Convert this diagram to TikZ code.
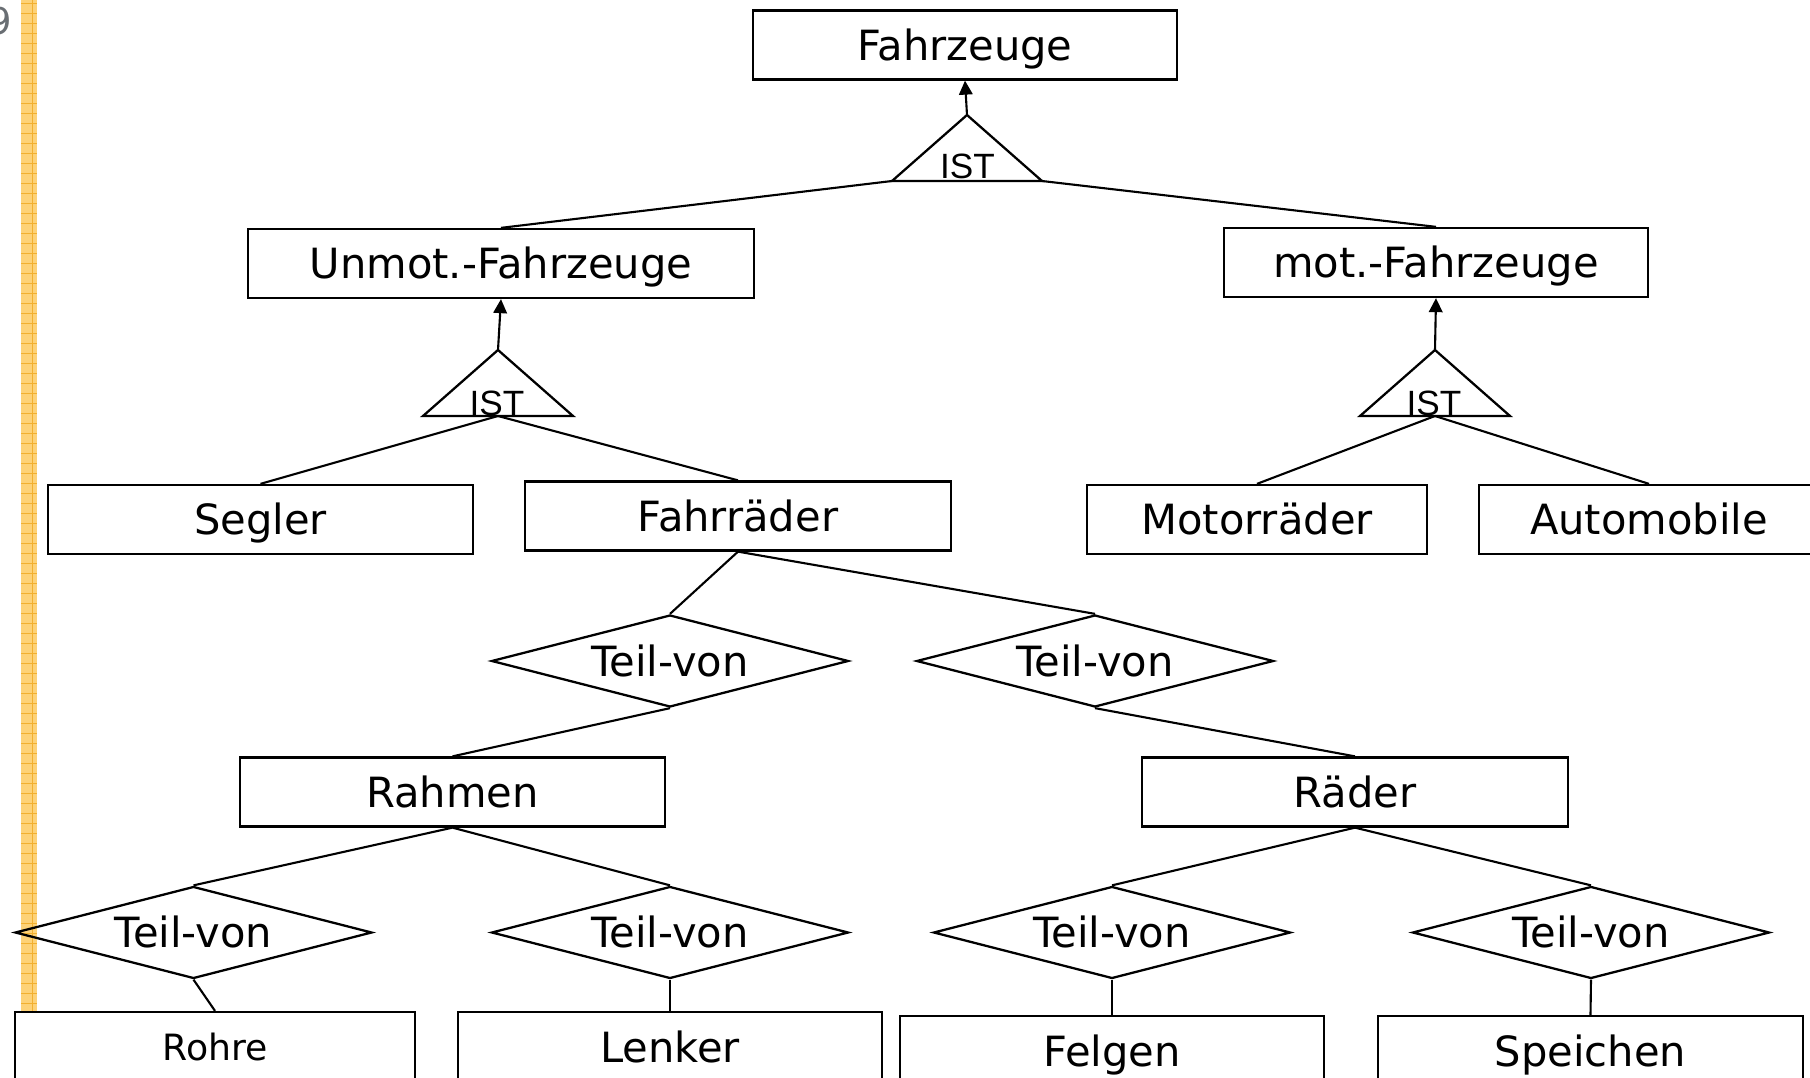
\documentclass[tikz,border=0pt]{standalone}
\usepackage{fontspec}
\setmainfont{DejaVu Sans}
\newfontfamily\istfont{Liberation Sans}
\usetikzlibrary{
  arrows.meta,
  shapes.geometric,
  calc,
}
\definecolor{barfill}{RGB}{253,210,120}
\definecolor{barline}{RGB}{242,176,48}
\definecolor{pagenum}{RGB}{105,110,115}
\def\pxu{0.02cm}
\tikzset{
  entbox/.style={
    rectangle, draw, line width=1.3pt, fill=white,
    minimum width=#1*\pxu, minimum height=69*\pxu, inner sep=0pt,
    font=\fontsize{23.7}{28}\selectfont, text height=17.3pt, text depth=0pt
  },
  entbox/.default=425,
  relnode/.style={
    diamond, draw, line width=1.3pt, aspect=3.9,
    minimum width=357*\pxu, minimum height=92*\pxu, inner sep=0pt,
    font=\fontsize{23.7}{28}\selectfont, text height=17.3pt, text depth=0pt
  },
  isttri/.style={
    isosceles triangle, shape border rotate=90, isosceles triangle stretches,
    draw, line width=1.3pt, minimum width=150*\pxu, minimum height=66*\pxu,
    inner sep=0pt, outer sep=0pt, anchor=apex
  },
  istlabel/.style={font=\istfont\fontsize{20}{24}\selectfont, inner sep=0pt, anchor=base},
  link/.style={line width=1.2pt},
  istarrow/.style={line width=1.2pt, -{Triangle[length=0.28cm, width=0.27cm]}},
}

\begin{document}
\begin{tikzpicture}[x=\pxu, y=-\pxu]
  \clip (0,0) rectangle (1810,1078);
  \useasboundingbox (0,0) rectangle (1810,1078);

  % ── Page margin bar ──
  \fill[barfill] (21,0) rectangle (37,1078);
  \foreach \yy in {3,13,...,1073}
    \draw[barline, line width=0.4pt] (21,\yy) -- (37,\yy);
  \draw[barline, line width=0.4pt] (32,0) -- (32,1078);
  \node[font=\fontsize{21}{24}\selectfont, text=pagenum, anchor=base east, inner sep=0pt]
    (pagenr) at (12,35) {9};

  % ── Generalisation: top level ──
  \node[entbox=424] (Fzg) at (965,45) {Fahrzeuge};
  \node[isttri] (IST0) at (967,115) {};
  \node[istlabel] (IST0lbl) at (967.5,178) {IST};
  \node[entbox=506] (Unmot) at (501,263.5) {Unmot.-Fahrzeuge};
  \node[entbox=424] (Mot) at (1436,262.5) {mot.-Fahrzeuge};

  % ── Generalisation: second level ──
  \node[isttri] (IST1) at (498,350) {};
  \node[istlabel] (IST1lbl) at (497,415) {IST};
  \node[isttri] (IST2) at (1435,350) {};
  \node[istlabel] (IST2lbl) at (1434,415) {IST};
  \node[entbox=425] (Segler) at (260.5,519.5) {Segler};
  \node[entbox=426] (Frad) at (738,516) {Fahrräder};
  \node[entbox=340] (Mrad) at (1257,519.5) {Motorräder};
  \node[entbox=340] (Auto) at (1649,519.5) {Automobile};

  % ── Aggregation: Fahrräder ──
  \node[relnode] (TV1) at (670,661) {Teil-von};
  \node[relnode] (TV2) at (1095,661) {Teil-von};
  \node[entbox=425] (Rahmen) at (452.5,792) {Rahmen};
  \node[entbox=426] (Raeder) at (1355,792) {Räder};

  % ── Aggregation: Rahmen / Räder ──
  \node[relnode] (TV3) at (193.5,932.5) {Teil-von};
  \node[relnode] (TV4) at (670,932.5) {Teil-von};
  \node[relnode] (TV5) at (1112,932.5) {Teil-von};
  \node[relnode] (TV6) at (1591,932.5) {Teil-von};
  \node[entbox=400, minimum height=71*\pxu, font=\fontsize{20.6}{24}\selectfont, text height=15pt]
    (Rohre) at (215,1047.5) {Rohre};
  \node[entbox=424, minimum height=71*\pxu] (Lenker) at (670,1047.5) {Lenker};
  \node[entbox=424, minimum height=71*\pxu] (Felgen) at (1112,1051.5) {Felgen};
  \node[entbox=425, minimum height=71*\pxu] (Speichen) at (1590.5,1051.5) {Speichen};

  % ── Connectors ──
  \draw[istarrow] (IST0.apex) -- (Fzg.south);
  \draw[link] (IST0.left corner) -- (Unmot.north);
  \draw[link] (IST0.right corner) -- (Mot.north);
  \draw[istarrow] (IST1.apex) -- (Unmot.south);
  \draw[istarrow] (IST2.apex) -- (Mot.south);
  \foreach \kid in {Segler, Frad}
    \draw[link] (IST1.lower side) -- (\kid.north);
  \foreach \kid in {Mrad, Auto}
    \draw[link] (IST2.lower side) -- (\kid.north);
  \draw[link] (Frad.south) -- (TV1.north);
  \draw[link] (Frad.south) -- (TV2.north);
  \draw[link] (TV1.south) -- (Rahmen.north);
  \draw[link] (TV2.south) -- (Raeder.north);
  \draw[link] (Rahmen.south) -- (TV3.north);
  \draw[link] (Rahmen.south) -- (TV4.north);
  \draw[link] (Raeder.south) -- (TV5.north);
  \draw[link] (Raeder.south) -- (TV6.north);
  \draw[link] (TV3.south) -- (Rohre.north);
  \draw[link] (TV4.south) -- (Lenker.north);
  \draw[link] (TV5.south) -- (Felgen.north);
  \draw[link] (TV6.south) -- (Speichen.north);

\end{tikzpicture}
\end{document}
